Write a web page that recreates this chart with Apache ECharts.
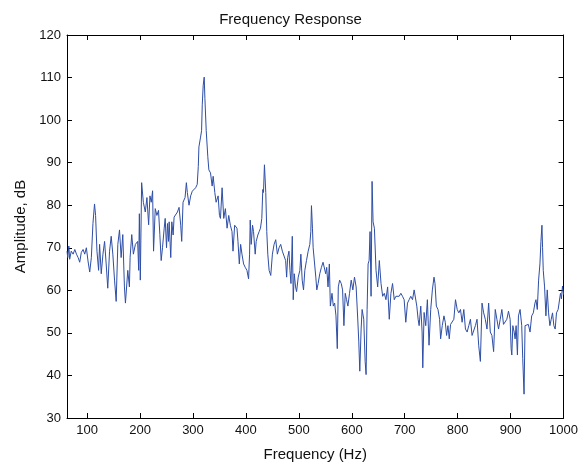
<!DOCTYPE html>
<html>
<head>
<meta charset="utf-8">
<script src="https://cdn.jsdelivr.net/npm/echarts@6/dist/echarts.min.js"></script>
<style>
  html, body { margin: 0; padding: 0; background: #fff; }
  #chart { width: 581px; height: 467px; }
</style>
</head>
<body>
<div id="chart"></div>
<script>
// [frequency Hz, amplitude dB], band by band
var band60 = [[62,69.2],[63.5,67.7],[65.5,70.4],[67,67.3],[70,69.2],[73.6,68.5],[76.7,69.6],[79.9,68.5],[83,67.7],[86,66.6],[89,68.9],[92.4,69.6],[95.5,68.5],[98.6,70],[101.7,66.9],[104.9,64.3],[108,67.7],[111,75.7],[114,80.3],[116,77.6],[118.6,69.2],[121.7,64.7],[123.6,70.8],[126.7,63.9],[129.9,68.5],[133,71.5],[136,66.2],[139,60.5],[142.4,69.2],[145.5,72.7],[148.6,68.5]];
var band150 = [[151.8,62.4],[154.9,57.4],[158,70.8],[161.2,74.2],[164.3,67.7],[167.4,73.1],[170.5,60.8],[172.4,57],[176.8,64.7],[179.9,60.8],[181.2,67.7],[184.3,73.1],[187.4,68.5],[191.2,70.8],[195.5,71.5],[197.4,64.7],[198.7,78],[200.5,62.4],[203,85.3],[206.2,80.7],[209.9,78.4],[213,81.8],[216.2,75.4],[218.7,82.2],[221.2,80.7],[223.7,83.4],[225.5,69.2],[228.7,79.2],[231.8,77.6],[234.9,78.8],[237.4,73.1],[239.9,67],[242.4,70]];
var band240 = [[245.6,74.6],[247.5,76.9],[250,70],[251.8,75.7],[253.7,71.5],[255,76.1],[258,67.7],[260,76.1],[262.5,73],[264.3,77.2],[267.5,76.9],[270.6,78.4],[273.7,79.5],[276.8,75.3],[278.7,71.5],[281.2,80.7],[285,81.8],[287.5,85.3],[289.3,83],[292.5,80],[295.6,82.2],[298.7,83.3],[301.8,83.7],[305,84.1],[308,84.9],[310,89.1],[311.2,93.7],[314.3,96],[316.2,97.5],[317.5,103.6],[319.3,108.2],[321.2,110.1],[322.5,105.1],[325,97.5],[328,91.4],[330,88.3]];
var band330 = [[333.1,87.6],[336.2,84.5],[338.1,86.8],[341.2,83],[343.7,80.7],[347.5,82.2],[350,77.6],[351.9,76.9],[355,84.1],[358.1,76.9],[361.2,79.2],[364.4,74.6],[367.5,77.6],[370.6,75.3],[373.7,73.8],[375.6,69.2],[378.7,75.3],[383.1,74.6],[385,71.5],[387.5,66.2],[390,70.8],[392.5,68.5],[395.6,66.2],[398.7,65.4],[401.9,64.7],[405,62.7],[406.9,68.5],[408.1,76.5],[410,70.8],[412.5,75.3],[414.4,73.8],[417.5,68.5],[419.4,71.5],[422.5,73],[425,73.8],[427.5,74.6],[430,76.9]];
var band430 = [[431.9,83.7],[433.2,83],[435,89.5],[437.5,83],[439.4,73.8],[441.3,68.5],[443.8,64.7],[446.9,63.5],[450,68.5],[453.2,70.8],[456.3,71.9],[459.4,68.5],[462.6,70],[465.7,70.8],[468.8,69.2],[471.9,69.6],[475,67],[476.9,63.1],[478.8,67.7],[481.3,69.2],[483.2,64.7],[485.1,61.6],[487.6,72.7],[489.4,57.8],[491.3,63.9],[493.8,60.8],[495.7,59.7],[498.8,63.1],[501.9,64.7],[503.8,68.5],[506.3,62.4],[508.8,60.1],[511.3,64.7],[514.4,67],[517.6,69.2],[520.7,70.8],[522.6,73.8],[523.8,79.9],[525.7,74.6]];
var band525 = [[527,70],[530.1,70],[532,63.1],[533.9,60.1],[536.4,61.6],[539.5,63.9],[542.6,65.4],[545.7,66.6],[548.9,66.2],[550.7,63.9],[552.6,65.4],[555.1,60.8],[557.6,66.2],[559.5,56.3],[562.6,59.3],[565.1,56.3],[567.6,57],[570.1,54],[572.6,46.3],[574.5,60.8],[577,62.4],[580.1,61.6],[582.6,60.1],[585.1,51.7],[587.6,59.3],[590.1,57.8],[592.6,56.3],[595.7,59.3],[598.9,62.4],[602,60.1],[605.1,63.1],[608.2,60.8],[611.4,52.8],[613.2,47.9],[615.1,41],[617.6,50.9],[619.5,55.5]];
var band620 = [[620.8,55.5],[622.6,53.2],[625.2,43.3],[627,40.2],[628.9,55.5],[630.8,66.2],[632.7,67],[634.5,73.8],[636.4,58.6],[638.3,85.6],[640.2,76.1],[642.7,74.6],[645.8,64.7],[648.9,60.8],[652,67],[655.2,61.6],[658.3,58.6],[661.4,59.3],[664.5,57.8],[667.7,60.8],[670.8,53.2],[673.9,59.3],[677,61.6],[680.2,57.8],[683.3,58.6],[686.4,59],[689.5,58.6],[692.7,59.3],[695.8,58.6],[698.9,57.8],[702,52.5],[705.2,57],[708.3,57.8],[711.4,58.6]];
var band710 = [[714.7,57.8],[717.8,60.1],[720.9,60.5],[722.8,56.3],[725.3,53.2],[727.2,51.7],[730.3,56.3],[732.8,50.2],[734.1,41.8],[736.6,54.8],[739.7,51.7],[742.8,57.8],[745.9,47.1],[749.1,55.5],[752.2,60.1],[755.3,63.1],[757.2,61.6],[759.7,56.3],[762.8,55.5],[765.9,53.2],[767.8,48.6],[770.9,51.7],[774.1,54],[776.6,52.5],[779.1,49.4],[781.6,51.7],[784.1,48.6],[786.6,52],[789.7,51.7],[792.8,53.2],[795.9,57.8],[799.1,55.5],[802.2,54.7],[805.3,55.5],[808.4,52.5]];
var band810 = [[811.6,55.5],[814.7,50.9],[817.9,50.2],[821,51.7],[824.1,53.2],[827.2,49.4],[830.4,49.8],[833.5,51.7],[836.6,53.2],[839.7,47.1],[842.9,43.3],[846,57],[849.1,54.7],[852.2,53.2],[855.4,50.9],[858.5,57],[861.6,50.2],[864.7,49.4],[867.9,45.6],[871,55.5],[874.1,53.2],[877.2,50.9],[880.4,53.2],[883.5,55.5],[886.6,52],[889.7,51.7],[892.9,53.2],[896,55.1],[899.1,53.2]];
var band900 = [[901,46.3],[902.3,44.8],[904.2,51.7],[906.7,50.2],[908.5,48.6],[910.4,51.7],[912.9,44.8],[914.8,54],[917.9,55.5],[921,51.7],[922.9,44],[925.4,35.6],[927.3,51.7],[930.4,52],[933.5,52],[936.7,50.2],[939.8,54],[942.9,54.7],[946,57],[947.9,57.8],[950.4,55.5],[952.9,62.4],[955.4,66.2],[957.3,71.5],[959.2,75.3],[960.4,70],[961.7,64.7],[964.2,60.8],[966.7,54],[969.2,60.1],[971.7,54.7],[974.2,51.7],[976.7,53.2],[979.2,54.7],[981.7,51.7],[984.2,50.9],[986.7,54.7],[989.8,55.5],[991.7,55.5],[994.2,59.3],[996,58],[998,61],[1000,59]];

var xTicks = [100, 200, 300, 400, 500, 600, 700, 800, 900, 1000];

var chartDom = document.getElementById("chart");
var myChart = echarts.init(chartDom, null, { renderer: "canvas" });

var response = band60.concat(band150, band240, band330, band430, band525, band620, band710, band810, band900);

var font = "Liberation Sans, Arial, sans-serif";
var axisLine = { show: true, lineStyle: { color: "#000", width: 1 } };
var tickIn = { show: true, inside: true, length: 5, lineStyle: { color: "#000" } };

var option = {
  animation: false,
  backgroundColor: "#fff",
  title: {
    text: "Frequency Response",
    left: "center",
    top: 7,
    textStyle: { fontFamily: font, fontSize: 15, fontWeight: "normal", color: "#111" }
  },
  grid: { left: 67, right: 14, top: 35, bottom: 38, containLabel: false },
  xAxis: [
    {
      type: "value",
      min: 62,
      max: 1000,
      position: "bottom",
      name: "Frequency (Hz)",
      nameLocation: "middle",
      nameGap: 29,
      nameTextStyle: { fontFamily: font, fontSize: 15, color: "#111" },
      axisLine: axisLine,
      axisTick: Object.assign({ customValues: xTicks }, tickIn),
      axisLabel: {
        customValues: xTicks,
        fontFamily: font,
        fontSize: 13,
        color: "#111",
        margin: 6,
        formatter: function (v) { return String(v); }
      },
      splitLine: { show: false }
    },
    {
      type: "value",
      min: 62,
      max: 1000,
      position: "top",
      axisLine: axisLine,
      axisTick: Object.assign({ customValues: xTicks }, tickIn),
      axisLabel: { show: false },
      splitLine: { show: false }
    }
  ],
  yAxis: [
    {
      type: "value",
      min: 30,
      max: 120,
      interval: 10,
      position: "left",
      name: "Amplitude, dB",
      nameLocation: "middle",
      nameGap: 38,
      nameRotate: 90,
      nameTextStyle: { fontFamily: font, fontSize: 15, color: "#111" },
      axisLine: axisLine,
      axisTick: tickIn,
      axisLabel: { fontFamily: font, fontSize: 13, color: "#111", margin: 6 },
      splitLine: { show: false }
    },
    {
      type: "value",
      min: 30,
      max: 120,
      interval: 10,
      position: "right",
      axisLine: axisLine,
      axisTick: tickIn,
      axisLabel: { show: false },
      splitLine: { show: false }
    }
  ],
  series: [
    {
      name: "response",
      type: "line",
      data: response,
      showSymbol: false,
      symbol: "none",
      lineStyle: { color: "#2e4ea6", width: 1 },
      silent: true
    }
  ]
};

option && myChart.setOption(option);
</script>
</body>
</html>
